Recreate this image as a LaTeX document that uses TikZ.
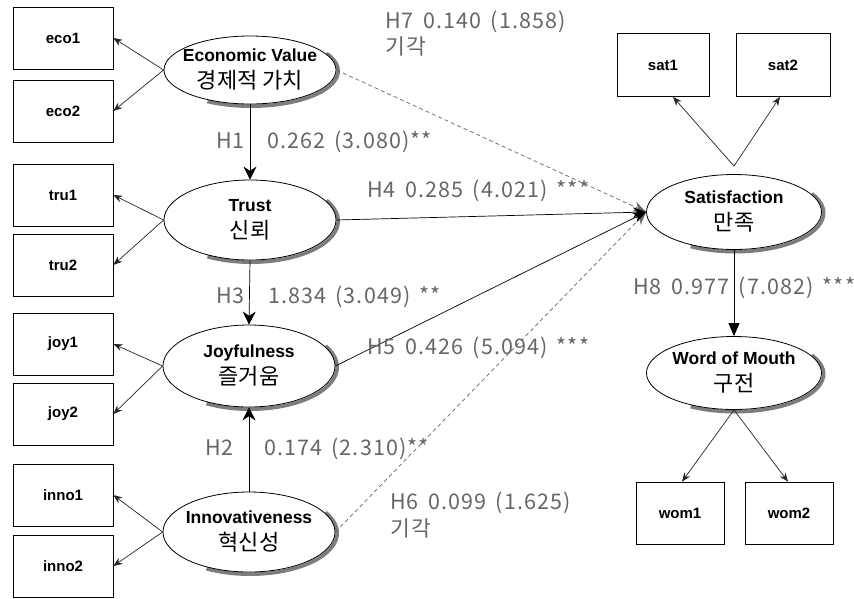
\documentclass[tikz,border=0pt]{standalone}
\usepackage{fontspec}
\setmainfont{Liberation Sans}
\newfontfamily\kr{Noto Sans CJK KR}
\newfontfamily\krlab[LetterSpace=5,WordSpace=1.6]{Noto Sans CJK KR}
\usetikzlibrary{shapes.geometric,arrows.meta}
\definecolor{shadowgray}{RGB}{125,125,125}
\begin{document}
\begin{tikzpicture}[x=1pt,y=-1pt,
  latent/.style={ellipse, draw, line width=0.8pt, fill=white, inner sep=0pt},
  shadowarc/.style={draw=shadowgray, line width=3.6pt},
  ltext/.style={align=center, inner sep=0pt, font=\fontsize{17.5}{27}\selectfont},
  obs/.style={rectangle, draw, line width=0.7pt, fill=white, minimum width=100pt,
    minimum height=62pt, inner sep=0pt, font=\bfseries\fontsize{15}{18}\selectfont},
  lab/.style={anchor=base west, inner sep=0pt, text=black!60,
    font=\krlab\fontsize{21.5}{26}\selectfont},
  meas/.style={-{Stealth[length=9pt,width=7pt,inset=3pt]}, line width=0.7pt, draw=black!85},
  strc/.style={-{Stealth[length=13pt,width=13pt]}, line width=0.7pt},
  conv/.style={-{Stealth[length=13pt,width=10pt]}, line width=0.7pt},
  dconv/.style={conv, draw=black!60, dash pattern=on 4pt off 3pt},
  tri/.style={-{Triangle[length=13pt,width=11pt]}, line width=0.7pt}
]
\fill[white] (0,0) rectangle (854,598);
\useasboundingbox (0,0) rectangle (854,598);

% drop shadows (bottom-right crescents, drawn under the ellipse borders)
\draw[shadowarc] (251,71) ++(-30:87.2 and 35.2) arc[start angle=-30, end angle=120, x radius=87.2, y radius=35.2];
\draw[shadowarc] (251,221) ++(-30:87.2 and 41.2) arc[start angle=-30, end angle=120, x radius=87.2, y radius=41.2];
\draw[shadowarc] (250,367) ++(-30:87.2 and 42.2) arc[start angle=-30, end angle=120, x radius=87.2, y radius=42.2];
\draw[shadowarc] (250,533) ++(-30:87.2 and 41.2) arc[start angle=-30, end angle=120, x radius=87.2, y radius=41.2];
\draw[shadowarc] (735,213) ++(-30:88.7 and 38.7) arc[start angle=-30, end angle=120, x radius=88.7, y radius=38.7];
\draw[shadowarc] (735,374) ++(-30:88.7 and 37.7) arc[start angle=-30, end angle=120, x radius=88.7, y radius=37.7];

% latent variables
\node[latent, minimum width=172pt, minimum height=68pt] (eco) at (250,70) {};
\node[latent, minimum width=172pt, minimum height=80pt] (trust) at (250,220) {};
\node[latent, minimum width=172pt, minimum height=82pt] (joy) at (249,366) {};
\node[latent, minimum width=172pt, minimum height=80pt] (inno) at (249,532) {};
\node[latent, minimum width=175pt, minimum height=75pt] (sat) at (734,212) {};
\node[latent, minimum width=175pt, minimum height=73pt] (wom) at (734,373) {};

\node[ltext] (ecoT) at (eco) {{\bfseries Economic Value}\\{\kr\fontsize{22}{27}\selectfont 경제적 가치}};
\node[ltext] (trustT) at (trust) {{\bfseries Trust}\\{\kr\fontsize{22}{27}\selectfont 신뢰}};
\node[ltext] (joyT) at (joy) {{\bfseries Joyfulness}\\{\kr\fontsize{22}{27}\selectfont 즐거움}};
\node[ltext] (innoT) at (inno) {{\bfseries Innovativeness}\\{\kr\fontsize{22}{27}\selectfont 혁신성}};
\node[ltext] (satT) at (sat) {{\bfseries Satisfaction}\\{\kr\fontsize{22}{27}\selectfont 만족}};
\node[ltext] (womT) at (wom) {{\bfseries Word of Mouth}\\{\kr\fontsize{22}{27}\selectfont 구전}};

% observed variables
\node[obs] (eco1) at (63,38) {eco1};
\node[obs] (eco2) at (63,111) {eco2};
\node[obs] (tru1) at (63,195) {tru1};
\node[obs] (tru2) at (63,265) {tru2};
\node[obs] (joy1) at (63,344) {joy1};
\node[obs] (joy2) at (63,414) {joy2};
\node[obs] (inno1) at (63,495) {inno1};
\node[obs] (inno2) at (63,566) {inno2};
\node[obs, minimum width=92pt, minimum height=63pt] (sat1) at (663,65) {sat1};
\node[obs, minimum width=94pt, minimum height=63pt] (sat2) at (783,65) {sat2};
\node[obs, minimum width=88pt] (wom1) at (680,513) {wom1};
\node[obs, minimum width=88pt] (wom2) at (789,513) {wom2};

% measurement arrows
\draw[meas] (eco.west) -- (eco1.east);
\draw[meas] (eco.west) -- (eco2.east);
\draw[meas] (trust.west) -- (tru1.east);
\draw[meas] (trust.west) -- (tru2.east);
\draw[meas] (joy.west) -- (joy1.east);
\draw[meas] (joy.west) -- (joy2.east);
\draw[meas] (inno.west) -- (inno1.east);
\draw[meas] (inno.west) -- (inno2.east);
\draw[meas] ([yshift=8pt]sat.north) -- ([xshift=10pt]sat1.south);
\draw[meas] ([yshift=8pt]sat.north) -- ([xshift=-3pt]sat2.south);
\draw[meas] (wom.south) -- ([xshift=2pt]wom1.north);
\draw[meas] (wom.south) -- ([xshift=-1pt]wom2.north);

% structural paths
\draw[strc] (eco.south) -- (trust.north);
\draw[strc] (trust.south) -- (joy.north);
\draw[strc] (inno.north) -- (joy.south);
\draw[dconv] (eco.east) -- (sat.west);
\draw[dconv] (inno.east) -- (sat.west);
\draw[conv] (trust.east) -- (sat.west);
\draw[conv] (joy.east) -- (sat.west);
\draw[tri] (sat.south) -- (wom.north);

% labels
\node[lab] (lH7) at (385,28) {H7 0.140 (1.858)};
\node[lab] (lH7b) at (385,54) {기각};
\node[lab] (lH1) at (216,148.5) {H1};
\node[lab] (lH1v) at (267,148.5) {0.262 (3.080)**};
\node[lab] (lH4) at (367,197.5) {H4 0.285 (4.021) ***};
\node[lab] (lH3) at (216,303.5) {H3};
\node[lab] (lH3v) at (268,303.5) {1.834 (3.049) **};
\node[lab] (lH5) at (367,354.5) {H5 0.426 (5.094) ***};
\node[lab] (lH2) at (205,455.5) {H2};
\node[lab] (lH2v) at (264,455.5) {0.174 (2.310)**};
\node[lab] (lH6) at (390,509.5) {H6 0.099 (1.625)};
\node[lab] (lH6b) at (390,536) {기각};
\node[lab] (lH8) at (633,294.5) {H8 0.977 (7.082) ***};
\end{tikzpicture}
\end{document}
